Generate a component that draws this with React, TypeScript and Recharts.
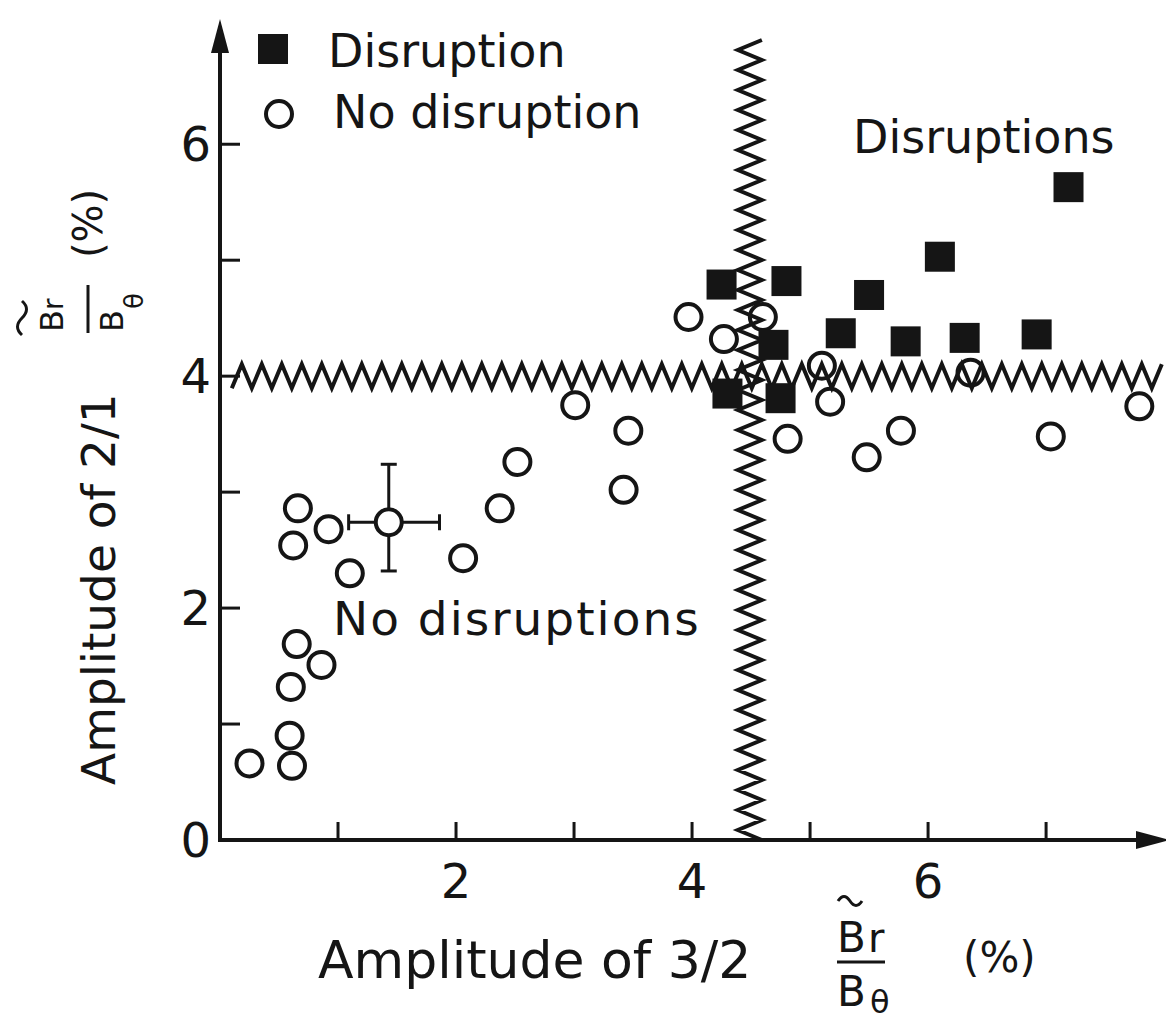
import React from "react"
import { ScatterChart, Scatter, XAxis, YAxis, ReferenceLine, ErrorBar, Customized } from "recharts"

const FONT = '"DejaVu Sans", sans-serif'
const INK = "#151515"

// shots that ended in a disruption (filled squares)
const disruptX = [4.25, 4.8, 5.5, 6.1, 7.19, 5.26, 5.81, 6.31, 6.92, 4.69, 4.3, 4.75]
const disruptY = [4.79, 4.82, 4.7, 5.03, 5.63, 4.37, 4.3, 4.33, 4.36, 4.27, 3.85, 3.81]

// shots without disruption (open circles)
const calmX = [0.25, 0.61, 0.59, 0.6, 0.65, 0.86, 0.62, 0.66, 0.92, 1.1, 2.06, 2.37, 2.52, 3.01, 3.46, 3.42, 3.97, 4.27, 4.6, 5.1, 5.17, 4.81, 5.48, 5.77, 6.36, 7.04, 7.79]
const calmY = [0.66, 0.64, 0.9, 1.32, 1.69, 1.51, 2.54, 2.86, 2.68, 2.3, 2.43, 2.86, 3.26, 3.75, 3.53, 3.02, 4.51, 4.32, 4.51, 4.09, 3.78, 3.46, 3.3, 3.53, 4.03, 3.48, 3.74]

// typical error bars on one shot
const errX = [1.43]
const errY = [2.74]
const errXSpread = [[0.34, 0.43]]
const errYSpread = [[0.42, 0.5]]

// thresholds (wavy lines)
const limitX = 4.49
const limitY = 4.0

const xTicks = [1, 2, 3, 4, 5, 6, 7]
const xLabelled = [2, 4, 6]
const yTicks = [0, 1, 2, 3, 4, 5, 6]
const yLabelled = [0, 2, 4, 6]

const disruptData = disruptX.map((x, i) => ({ x, y: disruptY[i] }))
const calmData = calmX.map((x, i) => ({ x, y: calmY[i] }))
const errData = errX.map((x, i) => ({ x, y: errY[i], ex: errXSpread[i], ey: errYSpread[i] }))

const Square = (p: any) => <rect x={p.cx - 15} y={p.cy - 15} width={30} height={30} fill={INK} />
const Ring = (p: any) => <circle cx={p.cx} cy={p.cy} r={13} fill="none" stroke={INK} strokeWidth={4} />
const FilledRing = (p: any) => <circle cx={p.cx} cy={p.cy} r={13} fill="#fff" stroke={INK} strokeWidth={4} />

const zigzag = (p: any) => {
    const { x1, y1, x2, y2 } = p
    const len = Math.hypot(x2 - x1, y2 - y1)
    const ux = (x2 - x1) / len
    const uy = (y2 - y1) / len
    const nx = -uy
    const ny = ux
    const step = 10
    const amp = 12
    const n = Math.floor(len / step)
    let d = ""
    for (let i = 0; i <= n; i++) {
        const s = i * step
        const a = i % 2 === 0 ? amp : -amp
        d += `${i === 0 ? "M" : "L"}${x1 + ux * s + nx * a},${y1 + uy * s + ny * a}`
    }
    return <path d={d} fill="none" stroke={INK} strokeWidth={4} strokeLinejoin="miter" />
}

const arrowAxis = (p: any) => {
    const { x1, y1, x2, y2 } = p
    const len = Math.hypot(x2 - x1, y2 - y1)
    const ux = (x2 - x1) / len
    const uy = (y2 - y1) / len
    const L = 34
    const W = 9
    const bx = x2 - ux * L
    const by = y2 - uy * L
    return (
        <g>
            <line x1={x1 - ux * 2} y1={y1 - uy * 2} x2={bx + ux * 4} y2={by + uy * 4} stroke={INK} strokeWidth={4} />
            <polygon points={`${x2},${y2} ${bx - uy * W},${by + ux * W} ${bx + uy * W},${by - ux * W}`} fill={INK} />
        </g>
    )
}

const XTick = (props: any) => {
    const { x, y, payload } = props
    const v = payload.value
    return (
        <g>
            <line x1={x} y1={y} x2={x} y2={y - 18} stroke={INK} strokeWidth={3} />
            {xLabelled.includes(v) && (
                <text x={x} y={y + 58} textAnchor="middle" fontFamily={FONT} fontSize={48} fill={INK}>
                    {v}
                </text>
            )}
        </g>
    )
}

const YTick = (props: any) => {
    const { x, y, payload } = props
    const v = payload.value
    return (
        <g>
            {v > 0 && <line x1={x} y1={y} x2={x + 20} y2={y} stroke={INK} strokeWidth={3} />}
            {yLabelled.includes(v) && (
                <text x={x - 9} y={y + 17} textAnchor="end" fontFamily={FONT} fontSize={48} fill={INK}>
                    {v}
                </text>
            )}
        </g>
    )
}

const txt = { fontFamily: FONT, fill: INK }

const Overlay = () => (
    <g>
        {/* legend */}
        <rect x={250} y={26} width={30} height={30} fill={INK} />
        <text x={320} y={59} fontSize={46} {...txt}>Disruption</text>
        <circle cx={271} cy={106} r={13} fill="none" stroke={INK} strokeWidth={4} />
        <text x={325} y={120} fontSize={46} {...txt}>No disruption</text>

        {/* region notes */}
        <text x={845} y={145} fontSize={46} {...txt}>Disruptions</text>
        <text x={325} y={627} fontSize={47} letterSpacing={2} {...txt}>No disruptions</text>

        {/* x title */}
        <text x={310} y={970} fontSize={52} {...txt}>Amplitude of 3/2</text>
        <path d="M830,893 q6,-9 12,0 t12,0" fill="none" stroke={INK} strokeWidth={3} />
        <text x={829} y={944} fontSize={42} {...txt}>B</text>
        <text x={860} y={944} fontSize={40} {...txt}>r</text>
        <line x1={829} y1={954} x2={877} y2={954} stroke={INK} strokeWidth={3} />
        <text x={829} y={998} fontSize={42} {...txt}>B</text>
        <text x={862} y={1005} fontSize={32} {...txt}>θ</text>
        <text x={955} y={964} fontSize={42} {...txt}>(%)</text>

        {/* y title */}
        <g transform="translate(107,777) rotate(-90)">
            <text x={0} y={0} fontSize={47} {...txt}>Amplitude of 2/1</text>
            <path d="M450,-93 q8,-9 17,0 t17,0" fill="none" stroke={INK} strokeWidth={3} />
            <text x={453} y={-52} fontSize={32} {...txt}>B</text>
            <text x={475} y={-52} fontSize={28} {...txt}>r</text>
            <line x1={452} y1={-27} x2={500} y2={-27} stroke={INK} strokeWidth={3} />
            <text x={453} y={8} fontSize={32} {...txt}>B</text>
            <text x={476} y={28} fontSize={26} {...txt}>θ</text>
            <text x={527} y={-13} fontSize={40} {...txt}>(%)</text>
        </g>
    </g>
)

export default function App() {
    return (
        <ScatterChart width={1166} height={1016} margin={{ top: 11, right: 4, bottom: 124, left: 152 }}>
            <XAxis
                type="number"
                dataKey="x"
                domain={[0, 8.05]}
                allowDataOverflow
                ticks={xTicks}
                interval={0}
                tickLine={false}
                axisLine={false}
                tickSize={0}
                tickMargin={0}
                tick={<XTick />}
                height={60}
            />
            <YAxis
                type="number"
                dataKey="y"
                domain={[0, 7.08]}
                allowDataOverflow
                ticks={yTicks}
                interval={0}
                tickLine={false}
                axisLine={false}
                tickSize={0}
                tickMargin={0}
                tick={<YTick />}
                width={60}
            />
            <ReferenceLine segment={[{ x: 0.1, y: limitY }, { x: 7.99, y: limitY }]} shape={zigzag} />
            <ReferenceLine segment={[{ x: limitX, y: 0 }, { x: limitX, y: 6.95 }]} shape={zigzag} />
            <ReferenceLine segment={[{ x: 0, y: 0 }, { x: 8.05, y: 0 }]} shape={arrowAxis} />
            <ReferenceLine segment={[{ x: 0, y: 0 }, { x: 0, y: 7.08 }]} shape={arrowAxis} />
            <Scatter data={calmData} shape={Ring} isAnimationActive={false} />
            <Scatter data={disruptData} shape={Square} isAnimationActive={false} />
            <Scatter data={errData} shape={FilledRing} isAnimationActive={false}>
                <ErrorBar dataKey="ex" direction="x" width={8} stroke={INK} strokeWidth={3} />
                <ErrorBar dataKey="ey" direction="y" width={8} stroke={INK} strokeWidth={3} />
            </Scatter>
            <Customized component={Overlay} />
        </ScatterChart>
    )
}
